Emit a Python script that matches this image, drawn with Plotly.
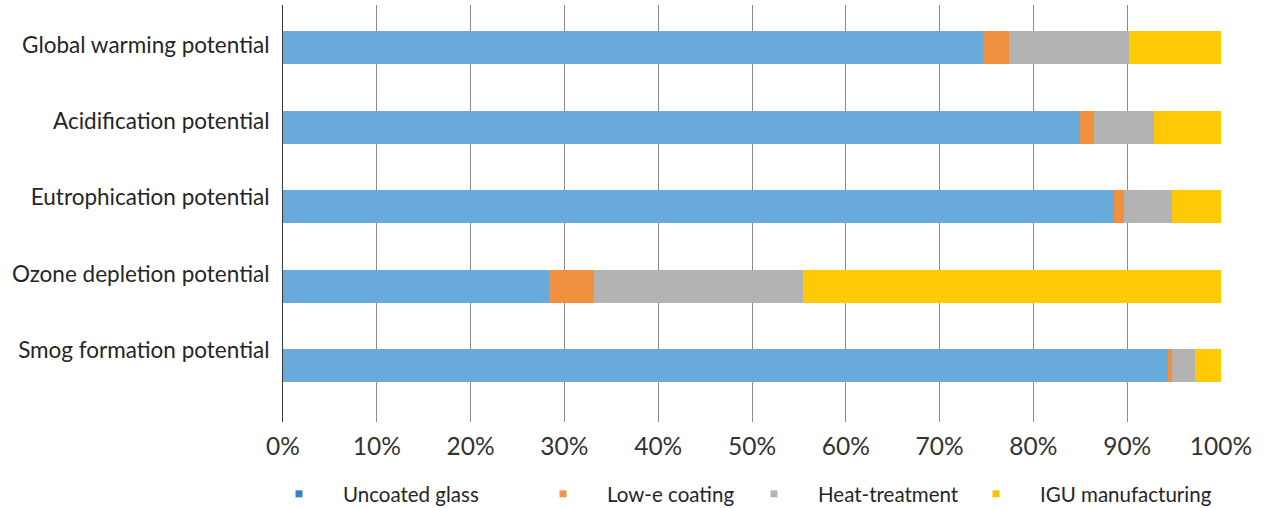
import plotly.graph_objects as go

# Impact categories (top to bottom) and each stage's share of the total, in %
categories = [
    "Global warming potential",
    "Acidification potential",
    "Eutrophication potential",
    "Ozone depletion potential",
    "Smog formation potential",
]
uncoated_glass = [74.6, 85.0, 88.6, 28.4, 94.3]
low_e_coating = [2.8, 1.5, 1.1, 4.8, 0.5]
heat_treatment = [12.8, 6.4, 5.1, 22.2, 2.4]
igu_manufacturing = [9.8, 7.1, 5.2, 44.6, 2.8]

x_ticks = [0, 10, 20, 30, 40, 50, 60, 70, 80, 90, 100]
x_tick_labels = [f"{t}%" for t in x_ticks]

series = [
    ("Uncoated glass", uncoated_glass, "#69AADC", "#3B7EC4", "legend"),
    ("Low-e coating", low_e_coating, "#F1903F", "#F2954B", "legend2"),
    ("Heat-treatment", heat_treatment, "#B3B3B3", "#B5B5B5", "legend3"),
    ("IGU manufacturing", igu_manufacturing, "#FFCA05", "#FFC000", "legend4"),
]

W, H = 1273, 508
FONT = "Lato, 'Open Sans', sans-serif"

fig = go.Figure()
for name, vals, color, key_color, leg in series:
    fig.add_trace(go.Bar(
        y=categories, x=vals, orientation="h", name=name,
        marker=dict(color=color, line=dict(width=0)),
        width=0.415, showlegend=False, yaxis="y",
    ))
    # small square key shown in the legend row
    fig.add_trace(go.Scatter(
        x=[None], y=[None], mode="markers", name=name,
        marker=dict(symbol="square", size=7, color=key_color),
        legend=leg, showlegend=True,
    ))

# category labels live on an overlaid axis with slightly tighter spacing
fig.add_trace(go.Scatter(
    y=categories, x=[None] * len(categories), mode="markers",
    yaxis="y2", showlegend=False, hoverinfo="skip",
))

# legend key positions (px, from the left edge of the page)
key_x = [299, 563, 774, 996]
ITEM_W = 78
KEY_OFFSET = ITEM_W / 2 + 5
legend_common = dict(
    orientation="h", xref="container", yref="container",
    xanchor="left", yanchor="middle", y=1 - 494 / H,
    font=dict(family=FONT, size=20.5, color="#262626"),
    bgcolor="rgba(0,0,0,0)", itemwidth=ITEM_W,
)
legends = {}
for i, kx in enumerate(key_x):
    key = "legend" if i == 0 else f"legend{i + 1}"
    legends[key] = dict(legend_common, x=(kx - KEY_OFFSET) / W)

fig.update_layout(
    width=W, height=H,
    margin=dict(l=283, r=52, t=5, b=86),
    paper_bgcolor="white", plot_bgcolor="white",
    barmode="stack", bargap=0,
    font=dict(family=FONT, color="#333333"),
    yaxis2=dict(
        type="category", categoryorder="array", categoryarray=categories,
        range=[4.945, -0.525], overlaying="y", side="left",
        showgrid=False, zeroline=False, showline=False,
        ticks="outside", ticklen=8, tickcolor="rgba(0,0,0,0)",
        tickfont=dict(family=FONT, size=22.5, color="#262626"),
        fixedrange=True,
    ),
    **legends,
)
fig.update_xaxes(
    range=[0, 100], tickvals=x_ticks, ticktext=x_tick_labels,
    showgrid=True, gridcolor="#8A8A8A", gridwidth=1,
    zeroline=False, showline=False,
    ticks="outside", ticklen=3, tickcolor="rgba(0,0,0,0)",
    tickfont=dict(family=FONT, size=24.5, color="#333333"),
    fixedrange=True,
)
fig.layout.yaxis.update(
    type="category", categoryorder="array", categoryarray=categories,
    range=[4.71, -0.54],
    showgrid=False, zeroline=False, showticklabels=False,
    showline=True, linecolor="#3A3A3A", linewidth=1,
    fixedrange=True,
)

fig.write_html("out.html")
